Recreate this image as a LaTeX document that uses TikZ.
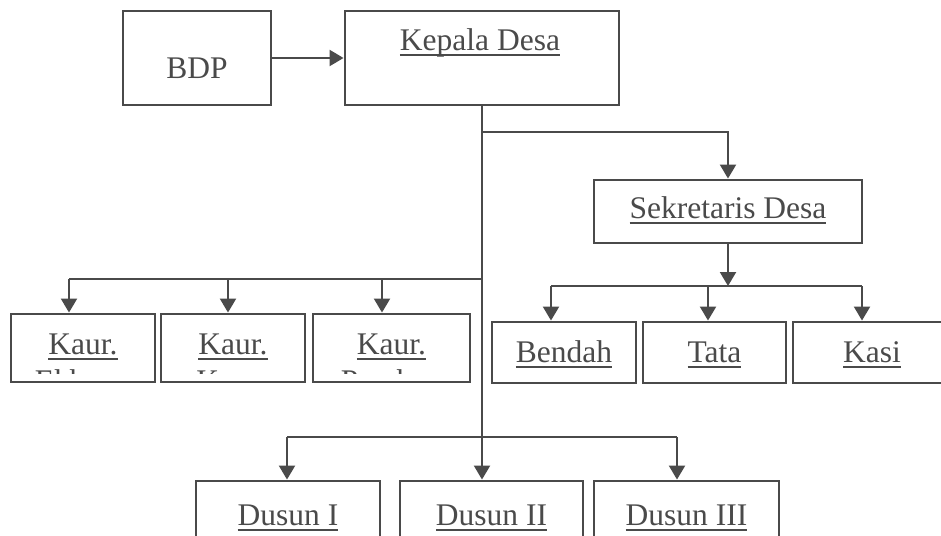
\documentclass[tikz,border=0pt]{standalone}
\usepackage{fontspec}
\setmainfont{Liberation Serif}
\usetikzlibrary{arrows.meta}
\definecolor{ink}{HTML}{4A4A4A}
\newcommand\ulx[1]{\setbox0\hbox{#1}\rlap{\rule[-5.5pt]{\wd0}{2pt}}\box0}
\begin{document}
\begin{tikzpicture}[x=1pt,y=-1pt,
  box/.style={draw=ink, line width=2.9pt, inner sep=0pt, rectangle},
  lbl/.style={anchor=base, inner sep=0pt, text=ink, font=\fontsize{31.5}{36}\selectfont},
  link/.style={draw=ink, line width=2.2pt},
  arr/.style={link, -{Triangle[width=16pt,length=14pt]}}]
\useasboundingbox (0,0) rectangle (941,535);
\clip (0,0) rectangle (941,535);
% top row
\node[box, minimum width=148pt, minimum height=94pt] (bdp) at (197,58) {};
\node[lbl] (bdpT) at (197,78) {BDP};
\node[box, minimum width=274pt, minimum height=94pt] (kd) at (482,58) {};
\node[lbl] (kdT) at (480,51) {\ulx{Kepala Desa}};
\draw[arr] (bdp.east) -- (kd.west);
% sekretaris
\node[box, minimum width=268pt, minimum height=63pt] (sek) at (728,211.5) {};
\node[lbl] (sekT) at (728,218) {\ulx{Sekretaris Desa}};
% kaur boxes
\node[box, minimum width=144pt, minimum height=68pt] (ka1) at (83,348) {};
\node[box, minimum width=144pt, minimum height=68pt] (ka2) at (233,348) {};
\node[box, minimum width=157pt, minimum height=68pt] (ka3) at (391.5,348) {};
\node[lbl] (ka1T) at (83,354) {\ulx{Kaur.}};
\node[lbl] (ka2T) at (233,354) {\ulx{Kaur.}};
\node[lbl] (ka3T) at (391.5,354) {\ulx{Kaur.}};
\begin{scope}
\clip (ka1.north west) rectangle (ka3.east |- 0,373);
\node[lbl] (ka1L) at (83,391) {Ekbang};
\node[lbl] (ka2L) at (233,391) {Kesra};
\node[lbl] (ka3L) at (391.5,391) {Pemban};
\end{scope}
% sekretaris children
\node[box, minimum width=144pt, minimum height=61pt] (ben) at (564,352.5) {};
\node[box, minimum width=143pt, minimum height=61pt] (tata) at (714.5,352.5) {};
\node[box, minimum width=158pt, minimum height=61pt] (kasi) at (872,352.5) {};
\node[lbl] (benT) at (564,362) {\ulx{Bendah}};
\node[lbl] (tataT) at (714.5,362) {\ulx{Tata}};
\node[lbl] (kasiT) at (872,362) {\ulx{Kasi}};
% dusun
\node[box, minimum width=184pt, minimum height=78pt] (d1) at (288,520) {};
\node[box, minimum width=183pt, minimum height=78pt] (d2) at (491.5,520) {};
\node[box, minimum width=185pt, minimum height=78pt] (d3) at (686.5,520) {};
\node[lbl] (d1T) at (288,525) {\ulx{Dusun I}};
\node[lbl] (d2T) at (491.5,525) {\ulx{Dusun II}};
\node[lbl] (d3T) at (686.5,525) {\ulx{Dusun III}};
% connectors
\coordinate (b1) at (482,132);
\coordinate (b2) at (482,279);
\coordinate (k1) at (69,279);
\coordinate (k2) at (228,279);
\coordinate (k3) at (382,279);
\coordinate (s0) at (728,286);
\coordinate (s1) at (551,286);
\coordinate (s2) at (708,286);
\coordinate (s3) at (862,286);
\coordinate (b3) at (482,437);
\coordinate (u1) at (287,437);
\coordinate (u3) at (677,437);
\draw[arr] (kd.south) -- (kd.south |- d2.north);
\draw[arr] (b1) -| (sek.north);
\draw[link] (b2) -- (k1);
\draw[arr] (k1) -- (k1 |- ka1.north);
\draw[arr] (k2) -- (k2 |- ka2.north);
\draw[arr] (k3) -- (k3 |- ka3.north);
\draw[arr] (sek.south) -- (s0);
\draw[link] (s1) -- (s3);
\draw[arr] (s1) -- (s1 |- ben.north);
\draw[arr] (s2) -- (s2 |- tata.north);
\draw[arr] (s3) -- (s3 |- kasi.north);
\draw[link] (u1) -- (u3);
\draw[arr] (u1) -- (u1 |- d1.north);
\draw[arr] (u3) -- (u3 |- d3.north);
\end{tikzpicture}
\end{document}
